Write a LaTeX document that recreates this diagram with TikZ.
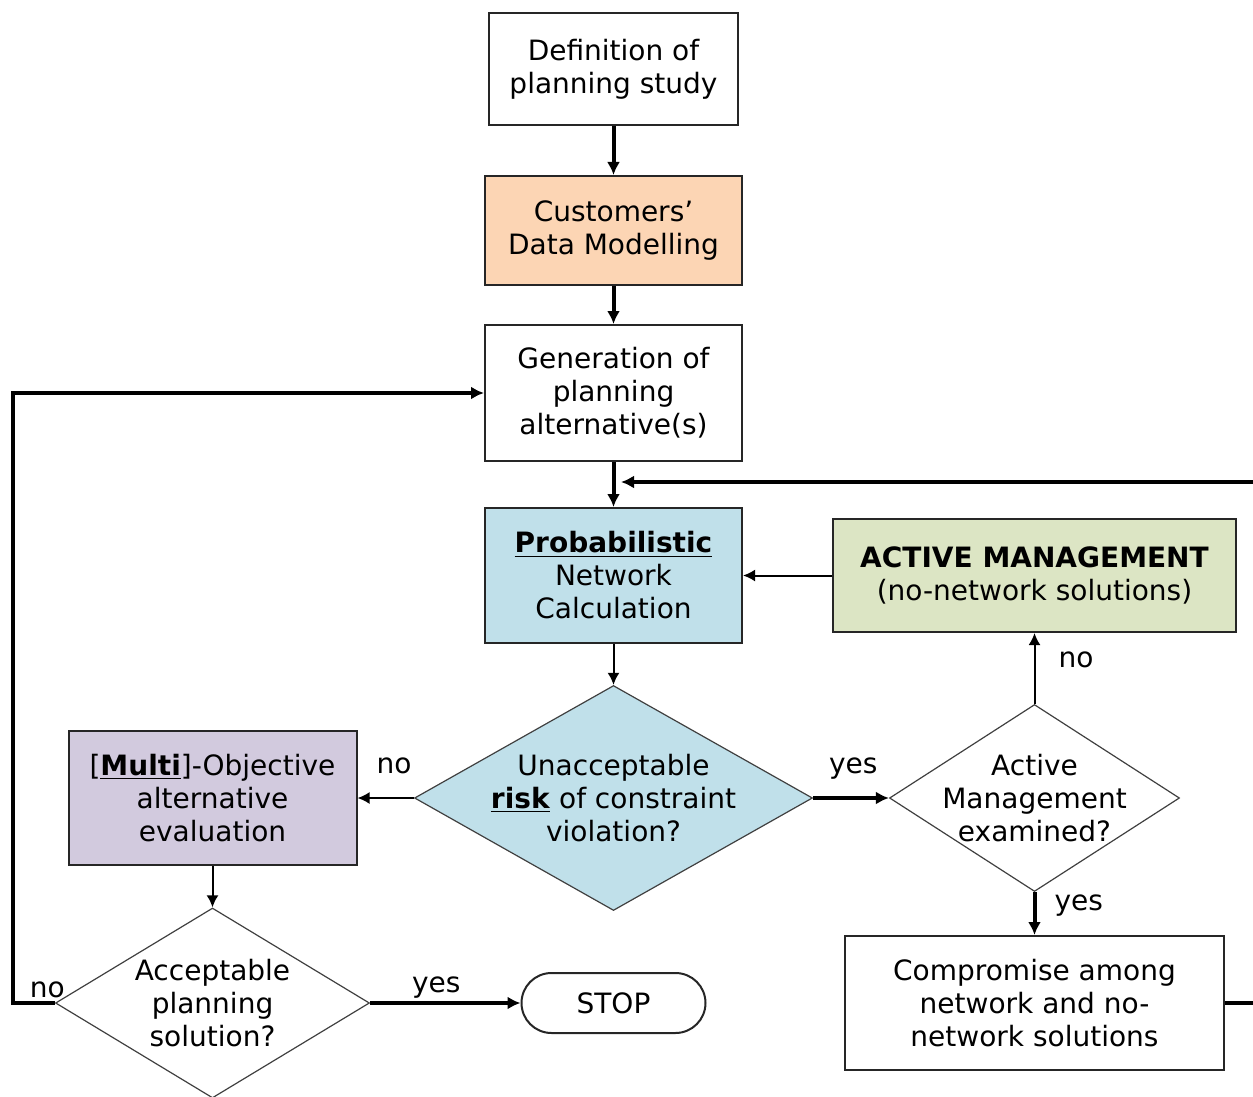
\documentclass[tikz,border=0pt]{standalone}
\usepackage{fontspec}
\setmainfont{DejaVu Sans}
\usetikzlibrary{positioning,arrows.meta,shapes.geometric}
\newcommand{\chartfont}{\fontsize{14pt}{16.5pt}\selectfont}
\definecolor{custpeach}{HTML}{FCD5B4}
\definecolor{calcblue}{HTML}{C0E0EA}
\definecolor{mgmtgreen}{HTML}{DCE5C4}
\definecolor{evalviolet}{HTML}{D2CADE}
\tikzset{
>={Latex[length=6.5pt,width=6.5pt]},
  punkt/.style={
    rectangle,
    draw=black!85, line width=1pt,
    % fill=black!10,
    align=center,
    inner sep=2pt,
    font=\chartfont},
  decision/.style={
    diamond,
    draw=black!75, line width=0.6pt,
    align=center,
    inner sep=-4pt,
    font=\chartfont},
  terminal/.style={
    rectangle,
    rounded corners=15pt,
    draw=black!85, line width=1pt,
    minimum width=92pt,
    minimum height=30pt,
    font=\chartfont},
  line/.style={draw, line width=2pt, ->},
  thinline/.style={draw, line width=1pt, -{Latex[length=6pt,width=6pt]}},
  answer/.style={anchor=base, inner sep=0pt, font=\chartfont},
}
\begin{document}
\begin{tikzpicture}[x=0.5pt,y=-0.5pt]
    \useasboundingbox (0,0) rectangle (1253,1097);

    \node [punkt, minimum width=124.5pt, minimum height=56pt] (definition) at (613.5,69) {Definition of\\planning study};
    \node [punkt, below of=definition, node distance=80.75pt, fill=custpeach, minimum width=128.5pt, minimum height=54.5pt] (customers) {Customers’\\Data Modelling};
    \node [punkt, below of=customers, node distance=81.25pt, minimum width=128.5pt, minimum height=68pt] (generation) {Generation of\\planning\\alternative(s)};
    \node [punkt, below of=generation, node distance=91.25pt, fill=calcblue, minimum width=128.5pt, minimum height=67.5pt] (probcalc) {\underline{\textbf{Probabilistic}}\\Network\\Calculation};
    \node [decision, below of=probcalc, node distance=111.25pt, fill=calcblue, aspect=1.77, minimum width=199pt, minimum height=112.5pt] (unacceptable) {Unacceptable\\\underline{\textbf{risk}} of constraint\\violation?};
    \node [punkt, left of=unacceptable, node distance=200.5pt, fill=evalviolet, minimum width=144pt, minimum height=67pt] (multiobj) {[\underline{\textbf{Multi}}]-Objective\\alternative\\evaluation};
    \node [decision, right of=unacceptable, node distance=210.5pt, aspect=1.55, minimum width=145pt, minimum height=93.5pt] (examined) {Active\\Management\\examined?};
    \node [punkt, above of=examined, node distance=111.25pt, fill=mgmtgreen, minimum width=201.5pt, minimum height=56.5pt] (activemgmt) {\textbf{ACTIVE MANAGEMENT}\\(no-network solutions)};
    \node [decision, below of=multiobj, node distance=102.5pt, aspect=1.65, minimum width=157pt, minimum height=95pt] (acceptable) {Acceptable\\planning\\solution?};
    \node [terminal, below of=unacceptable, node distance=102.5pt] (stop) {STOP};
    \node [punkt, below of=examined, node distance=102.5pt, minimum width=189.5pt, minimum height=67pt] (compromise) {Compromise among\\network and no-\\network solutions};

    \coordinate (loopL) at (13,1003);
    \coordinate (loopR) at (1262,1003);
    \coordinate (rejoin) at (621,482);

    \draw[line] (definition) -- (customers);
    \draw[line] (customers) -- (generation);
    \draw[line] (generation) -- (probcalc);
    \draw[thinline] (probcalc) -- (unacceptable);
    \draw[thinline] (activemgmt) -- (probcalc);
    \draw[thinline] (unacceptable.west) -- node[answer, pos=0.35, yshift=12.5pt]{no} (multiobj.east);
    \draw[line] (unacceptable.east) -- node[answer, pos=0.53, yshift=12.5pt]{yes} (examined.west);
    \draw[thinline] (examined.north) -- node[answer, anchor=base west, pos=0.51, xshift=11.5pt]{no} (activemgmt.south);
    \draw[line] (examined.south) -- node[answer, anchor=base west, pos=0.42, xshift=9pt]{yes} (compromise.north);
    \draw[thinline] (multiobj) -- (acceptable);
    \draw[line] (acceptable.east) -- node[answer, pos=0.44, yshift=5.5pt]{yes} (stop.west);
    \draw[line] (acceptable.west) -- node[answer, pos=0.18, yshift=3pt]{no} (loopL) |- (generation.west);
    \draw[line] (compromise.east) -- (loopR) |- (rejoin);

\end{tikzpicture}
\end{document}
